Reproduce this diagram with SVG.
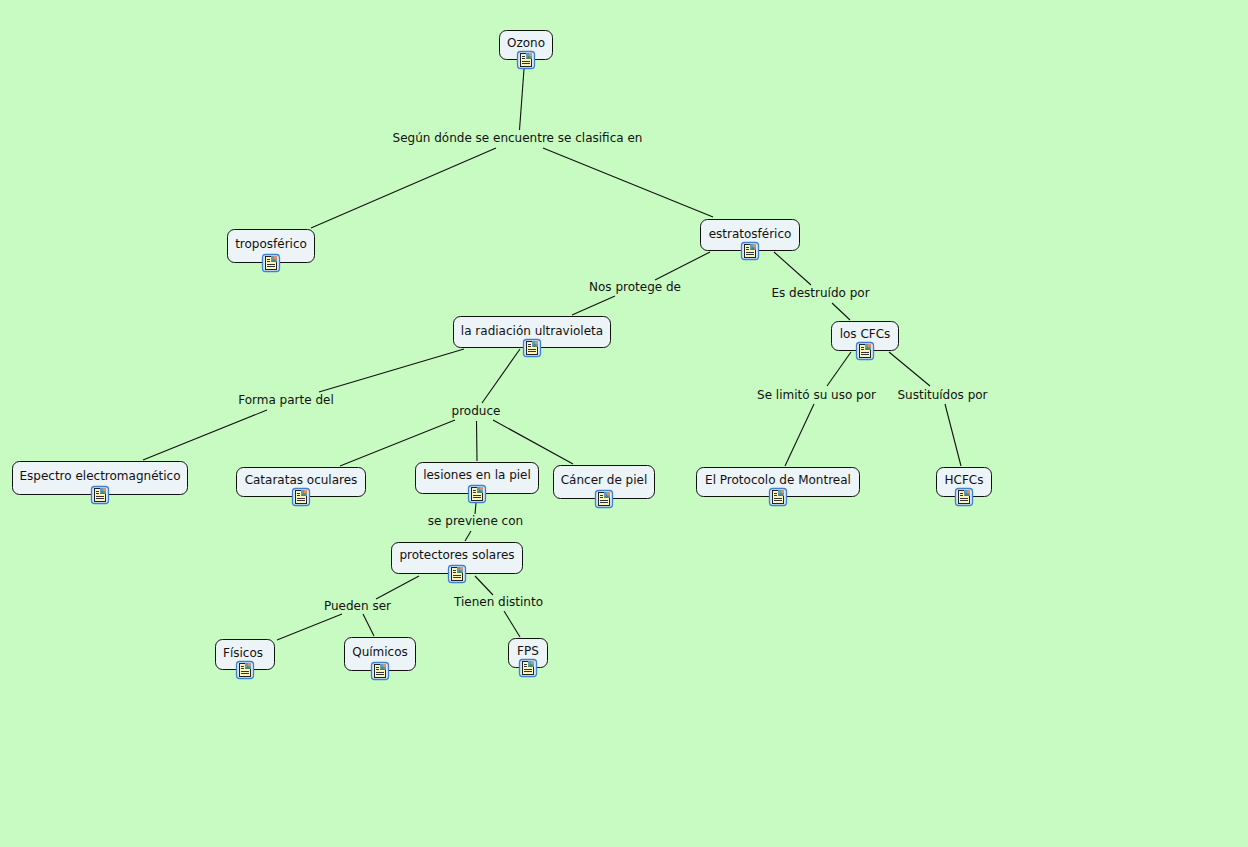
<svg xmlns="http://www.w3.org/2000/svg" width="1248" height="847" viewBox="0 0 1248 847">
<style>
text{font-family:"DejaVu Sans",Verdana,sans-serif;font-size:12px;fill:#111;text-anchor:middle}
.n{fill:#edf4f8;stroke:#111;stroke-width:1}
#connectors line{stroke:#111;stroke-width:1.1}
</style>
<defs>
<g id="ic">
<rect x="-8.500" y="-8.500" width="17" height="17" rx="3" fill="#d6e8f8" stroke="#3f7fd0" stroke-width="1.300"/>
<rect x="-5.500" y="-6.500" width="11" height="13" fill="#fbf4bc" stroke="#222" stroke-width="1"/>
<path d="M-4-3.500H-1M-4-1.500H-1M-4 1.500H4M-4 3.500H4" stroke="#333" stroke-width="1" fill="none"/>
<rect x="0" y="-7" width="6" height="6" fill="#5f9ac0"/>
<path d="M0-1L2.500-4L6-1Z" fill="#4f8a4e"/>
<rect x="3" y="-7" width="3" height="3" fill="#e0905a"/>
</g>
</defs>
<rect width="1248" height="847" fill="#c8fbc1"/>
<g id="connectors">
<line x1="524" y1="69" x2="519.500" y2="130"/>
<line x1="496" y1="148" x2="311" y2="228"/>
<line x1="543" y1="148" x2="713" y2="217"/>
<line x1="710" y1="252" x2="655" y2="280"/>
<line x1="615" y1="296" x2="572" y2="315"/>
<line x1="774" y1="252" x2="811" y2="285"/>
<line x1="832" y1="303" x2="850" y2="320"/>
<line x1="464" y1="349" x2="319" y2="392"/>
<line x1="267" y1="410" x2="143" y2="460"/>
<line x1="520" y1="349" x2="482" y2="403"/>
<line x1="455" y1="420" x2="340" y2="466"/>
<line x1="476.500" y1="421" x2="477" y2="461"/>
<line x1="493" y1="420" x2="573" y2="464"/>
<line x1="476" y1="503" x2="475" y2="514"/>
<line x1="471" y1="531" x2="465" y2="541"/>
<line x1="851" y1="352" x2="827" y2="386"/>
<line x1="814" y1="404" x2="785" y2="466"/>
<line x1="889" y1="352" x2="930" y2="386"/>
<line x1="945" y1="404" x2="961" y2="466"/>
<line x1="419" y1="576" x2="376" y2="599"/>
<line x1="342" y1="614" x2="277" y2="640"/>
<line x1="363" y1="614" x2="374" y2="636"/>
<line x1="475" y1="576" x2="493" y2="595"/>
<line x1="504" y1="611" x2="520" y2="637"/>
</g>
<g id="link-labels">
<text x="517.500" y="142">Según dónde se encuentre se clasifica en</text>
<text x="635" y="291">Nos protege de</text>
<text x="820.500" y="297">Es destruído por</text>
<text x="286" y="404">Forma parte del</text>
<text x="476" y="415">produce</text>
<text x="816.500" y="399">Se limitó su uso por</text>
<text x="942.500" y="399">Sustituídos por</text>
<text x="475.500" y="525">se previene con</text>
<text x="357.500" y="610">Pueden ser</text>
<text x="498.500" y="606">Tienen distinto</text>
</g>
<g id="ozono"><rect class="n" x="499.500" y="30.500" width="53" height="29" rx="7"/><text x="526" y="47">Ozono</text><use href="#ic" x="526" y="60"/></g>
<g id="troposferico"><rect class="n" x="227.500" y="229.500" width="87" height="33" rx="7"/><text x="271" y="248">troposférico</text><use href="#ic" x="271" y="263"/></g>
<g id="estratosferico"><rect class="n" x="700.500" y="219.500" width="99" height="31" rx="7"/><text x="750" y="238">estratosférico</text><use href="#ic" x="750" y="251"/></g>
<g id="radiacion"><rect class="n" x="453.500" y="316.500" width="157" height="31" rx="7"/><text x="532" y="335">la radiación ultravioleta</text><use href="#ic" x="532" y="348"/></g>
<g id="cfcs"><rect class="n" x="831.500" y="321.500" width="67" height="29" rx="7"/><text x="865" y="338">los CFCs</text><use href="#ic" x="865" y="351"/></g>
<g id="espectro"><rect class="n" x="12.500" y="461.500" width="175" height="33" rx="7"/><text x="100" y="480">Espectro electromagnético</text><use href="#ic" x="100" y="495"/></g>
<g id="cataratas"><rect class="n" x="236.500" y="467.500" width="129" height="29" rx="7"/><text x="301" y="484">Cataratas oculares</text><use href="#ic" x="301" y="497"/></g>
<g id="lesiones"><rect class="n" x="415.500" y="462.500" width="123" height="31" rx="7"/><text x="477" y="479">lesiones en la piel</text><use href="#ic" x="477" y="494"/></g>
<g id="cancer"><rect class="n" x="553.500" y="465.500" width="101" height="33" rx="7"/><text x="604" y="484">Cáncer de piel</text><use href="#ic" x="604" y="499"/></g>
<g id="protocolo"><rect class="n" x="696.500" y="467.500" width="163" height="29" rx="7"/><text x="778" y="484">El Protocolo de Montreal</text><use href="#ic" x="778" y="497"/></g>
<g id="hcfcs"><rect class="n" x="936.500" y="467.500" width="55" height="29" rx="7"/><text x="964" y="484">HCFCs</text><use href="#ic" x="964" y="497"/></g>
<g id="protectores"><rect class="n" x="391.500" y="542.500" width="131" height="31" rx="7"/><text x="457" y="559">protectores solares</text><use href="#ic" x="457" y="574"/></g>
<g id="fisicos"><rect class="n" x="215.500" y="639.500" width="59" height="30" rx="7"/><text x="243" y="657">Físicos</text><use href="#ic" x="245" y="670"/></g>
<g id="quimicos"><rect class="n" x="344.500" y="637.500" width="71" height="33" rx="7"/><text x="380" y="656">Químicos</text><use href="#ic" x="380" y="671"/></g>
<g id="fps"><rect class="n" x="508.500" y="638.500" width="39" height="29" rx="7"/><text x="528" y="655">FPS</text><use href="#ic" x="528" y="668"/></g>
</svg>
